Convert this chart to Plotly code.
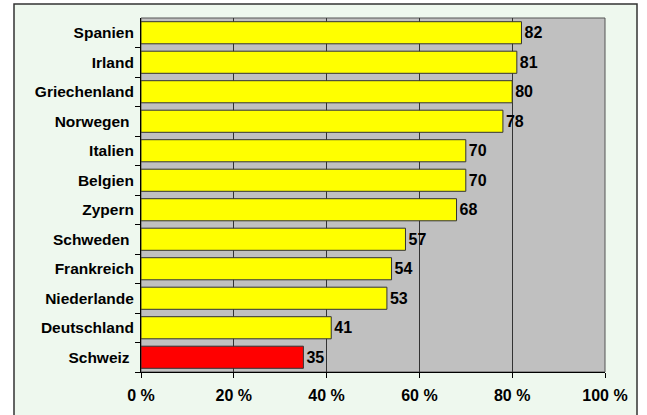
import plotly.graph_objects as go

countries = ["Spanien", "Irland", "Griechenland", "Norwegen\u00a0", "Italien", "Belgien",
             "Zypern", "Schweden\u00a0", "Frankreich", "Niederlande", "Deutschland", "Schweiz\u00a0"]
values = [82, 81, 80, 78, 70, 70, 68, 57, 54, 53, 41, 35]
colors = ["#FFFF00"] * 11 + ["#FF0000"]
x_ticks = [0, 20, 40, 60, 80, 100]
x_tick_labels = ["0 %", "20 %", "40 %", "60 %", "80 %", "100 %"]

FONT = "Liberation Sans, Arial, sans-serif"

fig = go.Figure(go.Bar(
    x=values, y=countries, orientation="h",
    marker=dict(color=colors, line=dict(color="#333333", width=1)),
    width=0.75,
    text=["<b>%d</b>" % v for v in values], textposition="outside",
    textfont=dict(family=FONT, size=16, color="black"),
    cliponaxis=False,
))

# plot area geometry in px
L, R, T, B = 141, 605, 18, 372
W, H = R - L, B - T
def px_x(p): return (p - L) / W
def px_y(p): return (B - p) / H

fig.add_shape(type="rect", xref="paper", yref="paper", layer="below",
              x0=px_x(14), x1=px_x(637), y0=px_y(430), y1=px_y(4),
              fillcolor="#EEF8EE", line=dict(color="#333333", width=1.5))
fig.add_shape(type="rect", xref="paper", yref="paper", layer="below",
              x0=0, x1=1, y0=0, y1=1,
              fillcolor="#C0C0C0", line=dict(color="#555555", width=1))

fig.update_layout(
    width=647, height=415,
    margin=dict(l=L, r=647 - R, t=T, b=415 - B, autoexpand=False),
    paper_bgcolor="white", plot_bgcolor="rgba(0,0,0,0)",
    showlegend=False,
    font=dict(family=FONT, size=13, color="black"),
    xaxis=dict(range=[0, 100], tickvals=x_ticks, ticktext=["<b>%s</b>" % t for t in x_tick_labels],
               showgrid=True, gridcolor="#333333", gridwidth=1,
               showline=True, linecolor="black", linewidth=1,
               ticks="outside", ticklen=5, tickcolor="black",
               tickfont=dict(family=FONT, size=16, color="black"),
               ticklabelstandoff=4,
               zeroline=False, fixedrange=True, automargin=False),
    yaxis=dict(categoryorder="array", categoryarray=countries[::-1],
               tickvals=countries, ticktext=["<b>%s</b>" % c for c in countries],
               showline=True, linecolor="black", linewidth=1,
               ticks="outside", ticklen=5, tickcolor="black", tickson="boundaries",
               tickfont=dict(family=FONT, size=15.5, color="black"),
               ticklabelstandoff=3,
               showgrid=False, fixedrange=True, automargin=False),
    bargap=0.25,
)

fig.write_html("out.html", config={"displayModeBar": False},
               post_script="document.body.style.margin='0';document.body.style.overflow='hidden';")
